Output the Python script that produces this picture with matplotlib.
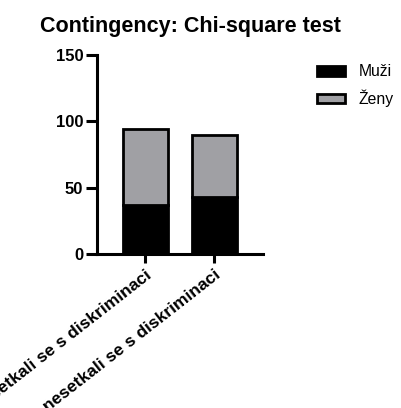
import matplotlib
matplotlib.use("Agg")
import matplotlib.pyplot as plt
import numpy as np

plt.rcParams['font.family'] = ['Liberation Sans', 'DejaVu Sans']

categories = ["setkali se s diskriminaci", "nesetkali se s diskriminaci"]
muzi = [37, 43]
zeny = [57, 47]
series_names = ["Muži", "Ženy"]

fig = plt.figure(figsize=(4.01, 4.08), dpi=100)
ax = fig.add_axes([0.242, 0.377, 0.414, 0.488])

x = np.arange(len(categories))
w = 0.65
ax.bar(x, muzi, w, color="black", edgecolor="black", linewidth=2, label=series_names[0])
ax.bar(x, zeny, w, bottom=muzi, color="#a0a0a4", edgecolor="black", linewidth=2, label=series_names[1])

ax.set_xlim(-0.70, 1.71)
ax.set_ylim(0, 150)
ax.set_yticks([0, 50, 100, 150])
ax.set_xticks(x)
ax.set_xticklabels(categories, rotation=38, ha="right", va="top", rotation_mode="anchor",
                   fontsize=12.5, fontweight="bold")
for lab in ax.get_yticklabels():
    lab.set_fontweight("bold")
    lab.set_fontsize(12)

for s in ["top", "right"]:
    ax.spines[s].set_visible(False)
for s in ["left", "bottom"]:
    ax.spines[s].set_linewidth(2.2)
ax.tick_params(axis="y", width=2.2, length=8, pad=2)
ax.tick_params(axis="x", width=2.2, length=6.5, pad=3)

fig.text(0.1, 1 - 32 / 408, "Contingency: Chi-square test", fontsize=15.5, fontweight="bold",
         va="baseline", ha="left")

leg = fig.legend(loc="upper left", bbox_to_anchor=(0.79, 0.842), frameon=False,
                 fontsize=11.3, handlelength=1.8, handleheight=0.57, handletextpad=0.85,
                 labelspacing=0.65, borderpad=0, borderaxespad=0)

fig.savefig("out.png", dpi=100)
